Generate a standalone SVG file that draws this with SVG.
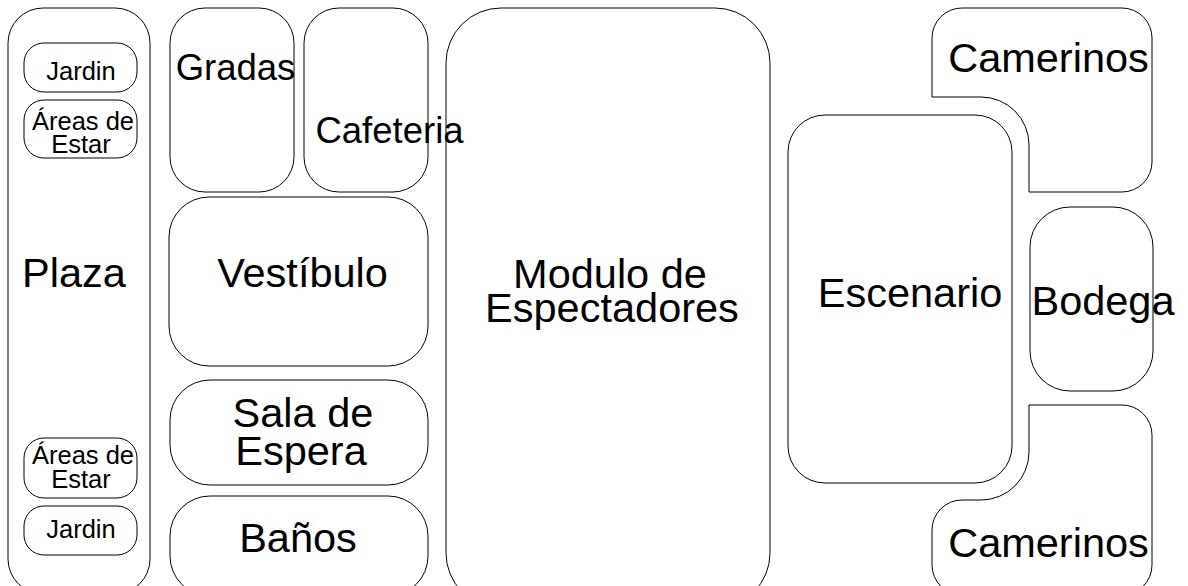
<svg xmlns="http://www.w3.org/2000/svg" width="1188" height="586" viewBox="0 0 1188 586">
<style>
.n{fill:none;stroke:#000;stroke-width:1}
text{font-family:"Liberation Sans",Arial,sans-serif;fill:#000;text-anchor:middle}
.b{font-size:41.5px}
.m{font-size:36.5px}
.s{font-size:25.5px}
</style>
<rect width="1188" height="586" fill="#fff"/>
<g id="plaza"><rect class="n" x="8" y="8" width="142" height="586" rx="35" ry="35"/><text class="b" x="74" y="287">Plaza</text></g>
<g id="jardin1"><rect class="n" x="24" y="43" width="113" height="49" rx="20" ry="20"/><text class="s" x="81" y="80">Jardin</text></g>
<g id="areas1"><rect class="n" x="24" y="100" width="113" height="58" rx="20" ry="20"/><text class="s" x="83" y="130">Áreas de</text><text class="s" x="81" y="153">Estar</text></g>
<g id="areas2"><rect class="n" x="24" y="438" width="113" height="60" rx="20" ry="20"/><text class="s" x="83" y="464">Áreas de</text><text class="s" x="81" y="488">Estar</text></g>
<g id="jardin2"><rect class="n" x="24" y="506" width="113" height="49" rx="20" ry="20"/><text class="s" x="81" y="538">Jardin</text></g>
<g id="gradas"><rect class="n" x="170" y="8" width="124" height="184" rx="35" ry="35"/><text class="m" x="235.5" y="80">Gradas</text></g>
<g id="cafeteria"><rect class="n" x="304" y="8" width="124" height="184" rx="35" ry="35"/><text class="m" x="389.5" y="143">Cafeteria</text></g>
<g id="vestibulo"><rect class="n" x="169" y="197" width="259" height="169" rx="40" ry="40"/><text class="b" x="302.5" y="287">Vestíbulo</text></g>
<g id="sala"><rect class="n" x="170" y="380" width="258" height="105" rx="40" ry="40"/><text class="b" x="303" y="427">Sala de</text><text class="b" x="301" y="465">Espera</text></g>
<g id="banos"><rect class="n" x="170" y="496" width="258" height="100" rx="40" ry="40"/><text class="b" x="298" y="552">Baños</text></g>
<g id="modulo"><rect class="n" x="446" y="8" width="324" height="600" rx="55" ry="55"/><text class="b" x="610" y="288">Modulo de</text><text class="b" x="612" y="322">Espectadores</text></g>
<g id="escenario"><rect class="n" x="788" y="115" width="224" height="368" rx="37" ry="37"/><text class="b" x="910" y="307">Escenario</text></g>
<g id="bodega"><rect class="n" x="1030" y="207" width="123" height="184" rx="40" ry="40"/><text class="b" x="1103" y="315">Bodega</text></g>
<g id="camerinos1"><path class="n" d="M 962 8 H 1122 A 30 30 0 0 1 1152 38 V 162 A 30 30 0 0 1 1122 192 H 1029 V 145 A 48 48 0 0 0 981 97 H 932 V 38 A 30 30 0 0 1 962 8 Z"/><text class="b" x="1048.5" y="72">Camerinos</text></g>
<g id="camerinos2"><path class="n" d="M 1029 405 H 1122 A 30 30 0 0 1 1152 435 V 565 A 30 30 0 0 1 1122 595 H 962 A 30 30 0 0 1 932 565 V 530 A 30 30 0 0 1 962 500 H 981 A 48 48 0 0 0 1029 452 Z"/><text class="b" x="1048.5" y="557">Camerinos</text></g>
<g id="connectors"></g>
</svg>
